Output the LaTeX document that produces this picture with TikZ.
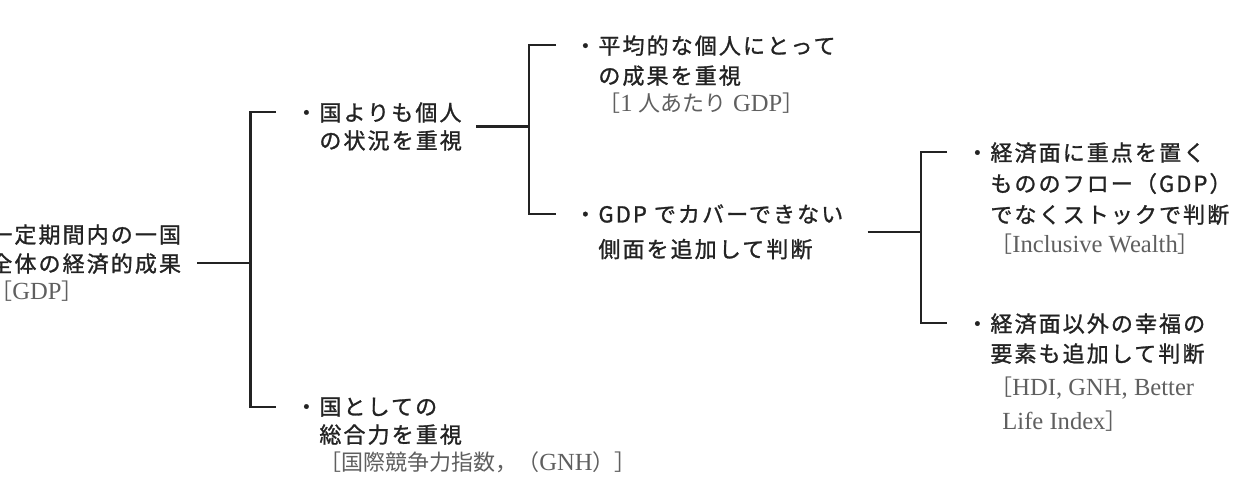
\documentclass[tikz,border=0pt]{standalone}
\usepackage{fontspec}
\setmainfont{Liberation Serif}
\newfontfamily\jp[LetterSpace=9.5,FakeBold=1.2]{Noto Sans CJK JP}
\newfontfamily\jpm{Noto Sans CJK JP}
\usepackage{xcolor}
\definecolor{sumi}{RGB}{35,35,35}
\definecolor{hai}{RGB}{95,95,95}
\usetikzlibrary{calc}
\newcommand{\ji}{\hspace*{12pt}}
\newcommand{\hj}[1]{{\jpm\fontsize{11}{14}\selectfont #1}}
\newcommand{\hosoku}[1]{{\color{hai}\rmfamily\fontsize{12.3}{14}\selectfont #1}}

\begin{document}
\begin{tikzpicture}[x=0.5pt,y=-0.5pt,
            naiyo/.style={anchor=north west,inner sep=0pt,align=left,
              font=\jp\fontsize{11}{14}\selectfont,text=sumi},
            sen/.style={draw=sumi,line width=1.1pt}
            ]
            \useasboundingbox (0,0) rectangle (1242,483);
            \node[naiyo] (root) at (-10,224) {一定期間内の一国\\[0.5pt]
              全体の経済的成果\\\hosoku{\hj{［}GDP\hj{］}}};
            \node[naiyo] (A) at (295,102) {・国よりも個人\\\ji の状況を重視};
            \node[naiyo] (B) at (295,397) {・国としての\\\ji 総合力を重視\\
              \ji\hosoku{\hj{［国際競争力指数，（}GNH\hj{）］}}};
            \node[naiyo] (A1) at (574,35) {・平均的な個人にとって\\[1pt]
              \ji の成果を重視\\\ji\hosoku{\hj{［}1 \hj{人あたり} GDP\hj{］}}};
            \node[naiyo] (A2) at (574,204) {・GDP でカバーできない\\[3.5pt]
              \ji 側面を追加して判断};
            \node[naiyo] (B1) at (966,142) {・経済面に重点を置く\\[1.5pt]
              \ji もののフロー（GDP）\\[1.5pt]\ji でなくストックで判断\\[1pt]
              \ji\hosoku{\hj{［}Inclusive Wealth\hj{］}}};
            \node[naiyo] (B2) at (966,313) {・経済面以外の幸福の\\[1pt]
              \ji 要素も追加して判断\\[3pt]\ji\hosoku{\hj{［}HDI, GNH, Better}\\[3pt]
              \ji\hosoku{\hspace*{6pt}Life Index\hj{］}}};

            \draw[sen] ([xshift=8pt]root.east) -- ++(53,0) coordinate (k1);
            \draw[sen] ($(A.north west)+(-19,10)$) -| (k1) |- ($(B.north west)+(-19,10)$);
            \draw[sen] ([xshift=7pt]A.east) -- ++(53,0) coordinate (k2);
            \draw[sen] ($(A1.north west)+(-18,10)$) -| (k2) |- ($(A2.north west)+(-18,10)$);
            \draw[sen] ([xshift=12pt]A2.east) -- ++(53,0) coordinate (k3);
            \draw[sen] ($(B1.north west)+(-19,10)$) -| (k3) |- ($(B2.north west)+(-19,10)$);
          \end{tikzpicture}
\end{document}
